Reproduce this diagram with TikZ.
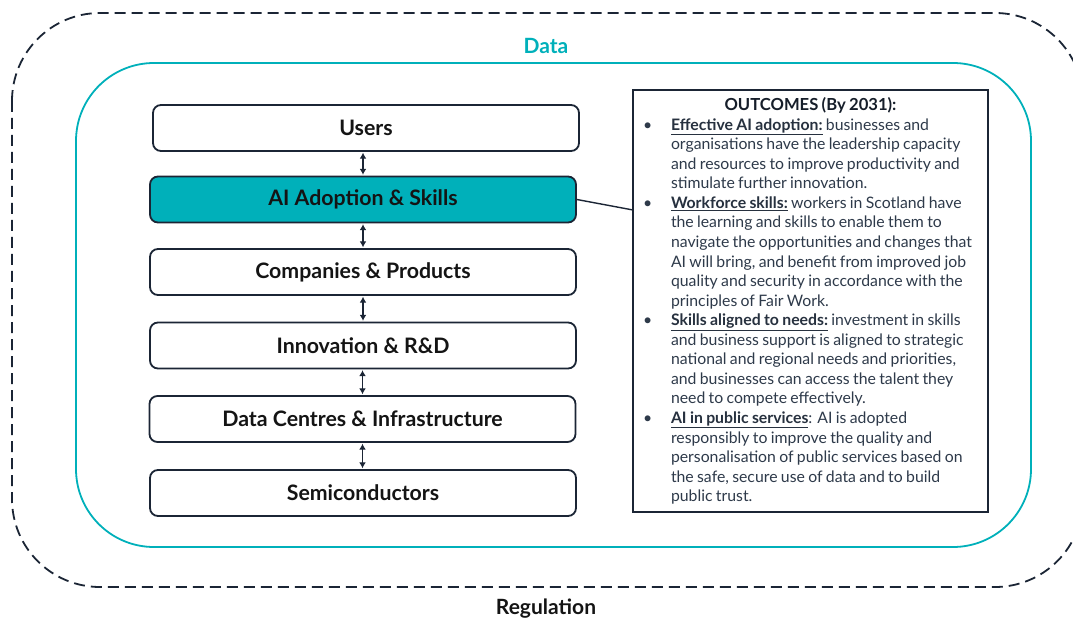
\documentclass[tikz,border=0pt]{standalone}
\usepackage{fontspec}
\setmainfont{Lato}
\usetikzlibrary{arrows.meta}
\definecolor{navy}{HTML}{1B2535}
\definecolor{teal}{HTML}{00B0BA}
\definecolor{bodytext}{HTML}{2E3A4A}
\tikzset{
  layerbox/.style={draw=navy, line width=1.8pt, rounded corners=8pt, fill=white,
    minimum width=426pt, minimum height=46pt, inner sep=0pt,
    font=\bfseries\fontsize{21.3}{25}\selectfont, text=black!92},
  hilite/.style={layerbox, fill=teal},
  linkarrow/.style={navy, line width=1.8pt, {Latex[length=6pt,width=7pt]}-{Latex[length=6pt,width=7pt]}, shorten <=0.8pt, shorten >=0.8pt},
  outbox/.style={draw=navy, line width=1.8pt, fill=white, minimum width=355pt, minimum height=422pt,
    inner sep=0pt, text width=339pt, align=left, text=bodytext},
  bigword/.style={font=\bfseries\fontsize{21}{25}\selectfont},
}
\newcommand{\obul}[1]{\par\leftskip=30pt\noindent\llap{\makebox[30pt][l]{\hspace{2pt}\textbullet}}{\color{bodytext!85!black}\underline{\textbf{#1}}}}
\begin{document}
\begin{tikzpicture}[x=1pt,y=-1pt]
\useasboundingbox (0,0) rectangle (1073,620);
% outer regulation boundary
\draw[navy, line width=1.8pt, dash pattern=on 11pt off 6pt, rounded corners=88pt] (12,13) rectangle (1083,587);
% data boundary
\draw[teal, line width=1.8pt, rounded corners=78pt] (76,63) rectangle (1031,547);
\node[bigword, text=teal] (data) at (546,46) {Data};
\node[bigword, text=black!92] (reg) at (546,609) {Regulation};
% layers
\node[layerbox] (users) at (366,128) {Users};
\node[hilite]   (ai)    at (363,199.5) {AI Adoption \& Skills};
\node[layerbox] (comp)  at (363,272) {Companies \& Products};
\node[layerbox] (innov) at (363,345.5) {Innovation \& R\&D};
\node[layerbox] (dc)    at (362.5,419) {Data Centres \& Infrastructure};
\node[layerbox] (semi)  at (363,493) {Semiconductors};
\draw[linkarrow] (ai.north) -- (ai.north |- users.south);
\draw[linkarrow] (ai.south) -- (comp.north);
\draw[linkarrow] (comp.south) -- (innov.north);
\draw[linkarrow] (innov.south -| dc.north) -- (dc.north);
\draw[linkarrow] (dc.south) -- (dc.south |- semi.north);
% outcomes
\node[outbox] (out) at (810.5,301) {%
  \fontsize{15.8}{19.55}\selectfont\raggedright
  {\centering\fontsize{16.6}{19.55}\selectfont\textbf{\color{navy!80!black}OUTCOMES (By 2031):}\par}
  \obul{Effective AI adoption:} businesses and\\
  organisations have the leadership capacity\\
  and resources to improve productivity and\\
  stimulate further innovation.
  \obul{Workforce skills:} workers in Scotland have\\
  the learning and skills to enable them to\\
  navigate the opportunities and changes that\\
  AI will bring, and benefit from improved job\\
  quality and security in accordance with the\\
  principles of Fair Work.
  \obul{Skills aligned to needs:} investment in skills\\
  and business support is aligned to strategic\\
  national and regional needs and priorities,\\
  and businesses can access the talent they\\
  need to compete effectively.
  \obul{AI in public services}: AI is adopted\\
  responsibly to improve the quality and\\
  personalisation of public services based on\\
  the safe, secure use of data and to build\\
  public trust.\par};
\coordinate (joint) at (633,210);
\draw[navy, line width=1.4pt] (ai.east) -- (joint);
\end{tikzpicture}
\end{document}
